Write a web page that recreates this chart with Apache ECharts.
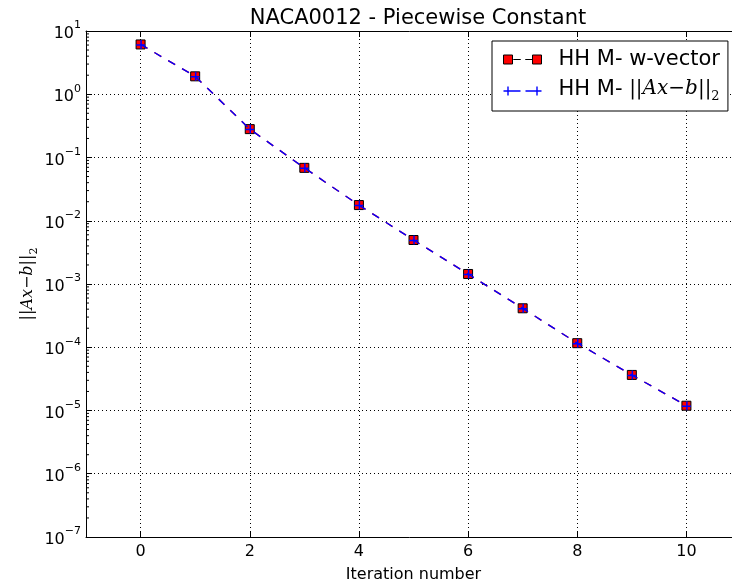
<!DOCTYPE html>
<html>
<head>
<meta charset="utf-8">
<script src="https://cdn.jsdelivr.net/npm/echarts@6/dist/echarts.min.js"></script>
<style>html,body{margin:0;padding:0;background:#fff;}#c{width:732px;height:588px;}</style>
</head>
<body>
<div id="c"></div>
<script>
const iterations = [0, 1, 2, 3, 4, 5, 6, 7, 8, 9, 10];
const wVector = [6.13, 1.92, 0.281, 0.0686, 0.0177, 0.00496, 0.00144, 0.000413, 0.000116, 0.0000365, 0.0000119];
const residual = [6.13, 1.92, 0.281, 0.0686, 0.0177, 0.00496, 0.00144, 0.000413, 0.000116, 0.0000365, 0.0000119];
const xTicks = [0, 2, 4, 6, 8, 10];
const minorMultipliers = [2, 3, 4, 5, 6, 7, 8, 9];

const nameW = 'HH M- w-vector';
const nameR = 'HH M- ||Ax-b||_2';

const minorTicks = [];
for (let e = -7; e < 1; e++) {
  for (const m of minorMultipliers) minorTicks.push([-1, m * Math.pow(10, e)]);
}

const mathRich = {
  t: {fontFamily: 'DejaVu Sans', fontSize: 21, color: '#000', lineHeight: 24, verticalAlign: 'top'},
  n: {fontFamily: 'DejaVu Serif', fontSize: 20, color: '#000', lineHeight: 24, verticalAlign: 'top'},
  i: {fontFamily: 'DejaVu Serif', fontStyle: 'italic', fontSize: 20, color: '#000', lineHeight: 24, verticalAlign: 'top'},
  s: {fontFamily: 'DejaVu Serif', fontSize: 13, color: '#000', lineHeight: 12, verticalAlign: 'bottom'}
};

const plusPath = 'path://M0,4.25 L9,4.25 L9,5.75 L0,5.75 Z M4.25,0 L5.75,0 L5.75,9 L4.25,9 Z';
const iconW = 'path://M0,0 L9,0 L9,9 L0,9 Z M10,4.5 L17,4.5 L17,4.5 Z M22,4.5 L29,4.5 L29,4.5 Z M29,0 L38,0 L38,9 L29,9 Z';
const iconR = 'path://M0,3.8 L9,3.8 L9,5.2 L0,5.2 Z M3.8,0 L5.2,0 L5.2,9 L3.8,9 Z M9,3.8 L17,3.8 L17,5.2 L9,5.2 Z M22,3.8 L29,3.8 L29,5.2 L22,5.2 Z M29,3.8 L38,3.8 L38,5.2 L29,5.2 Z M32.8,0 L34.2,0 L34.2,9 L32.8,9 Z';

const chart = echarts.init(document.getElementById('c'), null, {renderer: 'canvas'});
const option = {
  animation: false,
  backgroundColor: '#fff',
  title: {
    text: 'NACA0012 - Piecewise Constant',
    left: 413, top: 3, textAlign: 'center',
    textStyle: {fontFamily: 'DejaVu Sans', fontSize: 21, fontWeight: 'normal', color: '#000'}
  },
  grid: {left: 86, top: 31, width: 655, bottom: 51, containLabel: false, outerBoundsMode: 'none'},
  legend: {
    orient: 'vertical',
    left: 492, top: 41,
    padding: [8, 8, 8, 11],
    itemGap: 9,
    itemWidth: 38, itemHeight: 9,
    borderColor: '#000', borderWidth: 1, backgroundColor: '#fff',
    textStyle: {fontFamily: 'DejaVu Sans', fontSize: 21, color: '#000', padding: [0, 0, 0, 12], rich: mathRich},
    formatter: function (name) {
      if (name === nameR) return '{t|HH M- }{n|||}{i|Ax}{n|−}{i|b}{n|||}{s|2}';
      return name;
    },
    data: [
      {name: nameW, icon: iconW, itemStyle: {color: '#ff0000', borderColor: '#000', borderWidth: 1}},
      {name: nameR, icon: iconR, itemStyle: {color: '#0000ff', borderWidth: 0}}
    ]
  },
  xAxis: [{
    type: 'value', min: -1, max: 11, position: 'bottom',
    name: 'Iteration number', nameLocation: 'middle', nameGap: 30, nameMoveOverlap: false,
    nameTextStyle: {fontFamily: 'DejaVu Sans', fontSize: 16, color: '#000'},
    axisLine: {show: true, onZero: false, lineStyle: {color: '#000', width: 1}},
    axisTick: {show: true, inside: true, length: 6, customValues: xTicks, lineStyle: {color: '#000'}},
    axisLabel: {show: true, margin: 7, customValues: xTicks, fontFamily: 'DejaVu Sans', fontSize: 16, color: '#000'},
    splitLine: {show: true, lineStyle: {color: '#000', type: [1, 3], width: 1}}
  }, {
    type: 'value', min: -1, max: 11, position: 'top',
    axisLine: {show: true, onZero: false, lineStyle: {color: '#000', width: 1}},
    axisTick: {show: true, inside: true, length: 6, customValues: xTicks, lineStyle: {color: '#000'}},
    axisLabel: {show: false},
    splitLine: {show: false}
  }],
  yAxis: [{
    type: 'log', logBase: 10, min: 1e-7, max: 10,
    name: '{n|||}{i|Ax}{n|−}{i|b}{n|||}{s|2}',
    nameLocation: 'middle', nameGap: 46, nameRotate: 90, nameMoveOverlap: false,
    nameTextStyle: {
      rich: {
        n: {fontFamily: 'DejaVu Serif', fontSize: 16, color: '#000', lineHeight: 20, verticalAlign: 'top'},
        i: {fontFamily: 'DejaVu Serif', fontStyle: 'italic', fontSize: 16, color: '#000', lineHeight: 20, verticalAlign: 'top'},
        s: {fontFamily: 'DejaVu Serif', fontSize: 11, color: '#000', lineHeight: 10, verticalAlign: 'bottom'}
      }
    },
    axisLine: {show: true, onZero: false, lineStyle: {color: '#000', width: 1}},
    axisTick: {show: true, inside: true, length: 6, lineStyle: {color: '#000'}},
    axisLabel: {
      show: true, margin: 5,
      formatter: function (v) {
        const e = Math.round(Math.log10(v));
        return '{a|10}{b|' + (e < 0 ? '−' + (-e) : e) + '}';
      },
      rich: {
        a: {fontFamily: 'DejaVu Sans', fontSize: 16, color: '#000', lineHeight: 22, verticalAlign: 'bottom'},
        b: {fontFamily: 'DejaVu Sans', fontSize: 11, color: '#000', lineHeight: 12, verticalAlign: 'top'}
      }
    },
    splitLine: {show: true, lineStyle: {color: '#000', type: [1, 3], width: 1}}
  }],
  series: [{
    name: nameW, type: 'line', z: 2,
    data: iterations.map((x, i) => [x, wVector[i]]),
    symbol: 'rect', symbolSize: 9,
    itemStyle: {color: '#ff0000', borderColor: '#000', borderWidth: 1},
    lineStyle: {color: '#ff0000', width: 1.4, type: [8, 8]}
  }, {
    name: nameR, type: 'line', z: 3,
    data: iterations.map((x, i) => [x, residual[i]]),
    symbol: plusPath, symbolSize: 9,
    itemStyle: {color: '#0000ff'},
    lineStyle: {color: '#0000ff', width: 1.4, type: [8, 8]}
  }, {
    name: 'minor', type: 'custom', silent: true, clip: false, z: 4,
    data: minorTicks,
    renderItem: function (params, api) {
      const p = api.coord([api.value(0), api.value(1)]);
      return {type: 'line', shape: {x1: p[0], y1: p[1], x2: p[0] + 3, y2: p[1]}, style: {stroke: '#000', lineWidth: 1}};
    }
  }]
};
chart.setOption(option);
</script>
</body>
</html>
